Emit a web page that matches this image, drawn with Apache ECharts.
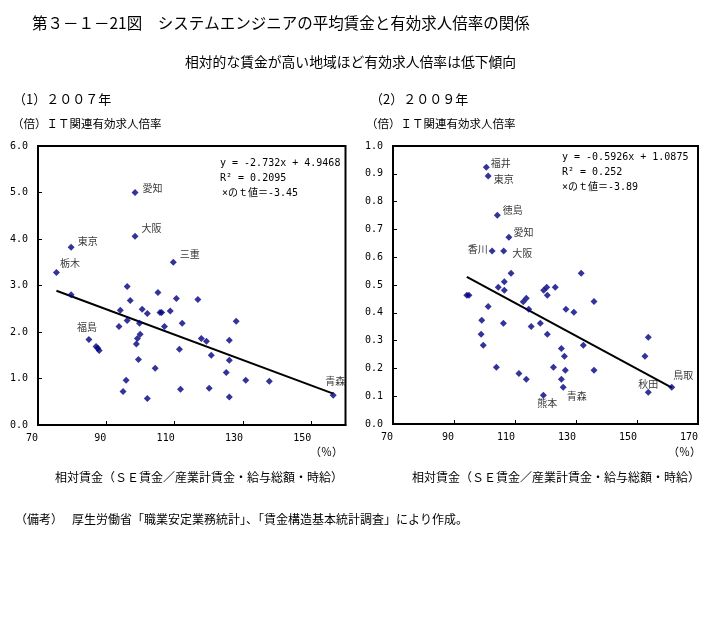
<!DOCTYPE html>
<html><head><meta charset="utf-8">
<script src="https://cdn.jsdelivr.net/npm/echarts@6/dist/echarts.min.js"></script>
<style>html,body{margin:0;padding:0;background:#fff}#c{width:717px;height:623px}</style>
</head><body><div id="c"></div>
<script>
// ---- Data: (1) 2007 ----
const x2007 = [98.4, 98.4, 79.7, 109.6, 75.4, 96.1, 79.7, 105.1, 110.5, 116.8, 97.0, 94.1, 100.5, 102.0, 105.7, 106.2, 108.7, 96.1, 93.7, 99.7, 107.0, 112.2, 128.0, 84.9, 99.9, 99.1, 117.8, 119.3, 126.0, 98.8, 87.0, 87.5, 87.9, 111.4, 120.7, 99.4, 126.0, 104.3, 125.1, 95.8, 130.8, 137.7, 94.9, 111.7, 120.1, 102.0, 126.0, 156.4];
const y2007 = [5.00, 4.06, 3.82, 3.50, 3.28, 2.98, 2.80, 2.85, 2.72, 2.70, 2.68, 2.47, 2.49, 2.40, 2.42, 2.42, 2.45, 2.25, 2.12, 2.19, 2.12, 2.19, 2.23, 1.84, 1.95, 1.86, 1.86, 1.80, 1.82, 1.74, 1.69, 1.65, 1.60, 1.63, 1.50, 1.41, 1.39, 1.22, 1.13, 0.96, 0.96, 0.94, 0.72, 0.77, 0.79, 0.57, 0.60, 0.64];
const names2007 = ['愛知', '大阪', '東京', '三重', '栃木', '', '', '', '', '', '', '', '', '', '', '', '', '', '', '', '', '', '', '福島', '', '', '', '', '', '', '', '', '', '', '', '', '', '', '', '', '', '', '', '', '', '', '', '青森'];
const slope2007 = -2.732, intercept2007 = 4.9468, r2_2007 = '0.2095', t2007 = '-3.45';
const xTicks2007 = [70, 90, 110, 130, 150];
const xMax2007 = 160;
const yTicks2007 = [0, 1, 2, 3, 4, 5, 6];

// ---- Data: (2) 2009 ----
const x2009 = [100.6, 101.2, 104.2, 108.0, 102.5, 106.3, 108.7, 131.7, 94.2, 94.9, 104.5, 106.5, 106.5, 101.2, 112.7, 113.7, 114.5, 99.1, 106.2, 115.3, 118.3, 98.9, 99.6, 119.4, 120.4, 120.6, 123.2, 120.6, 126.7, 129.3, 135.9, 125.2, 126.2, 132.4, 103.9, 122.6, 126.5, 135.9, 111.3, 113.7, 125.2, 125.8, 119.3, 152.6, 153.7, 153.7, 161.4];
const y2009 = [0.924, 0.892, 0.751, 0.672, 0.622, 0.622, 0.542, 0.542, 0.463, 0.463, 0.492, 0.512, 0.481, 0.423, 0.440, 0.452, 0.413, 0.373, 0.362, 0.351, 0.362, 0.323, 0.283, 0.481, 0.492, 0.463, 0.492, 0.323, 0.413, 0.402, 0.441, 0.272, 0.244, 0.283, 0.204, 0.204, 0.193, 0.193, 0.182, 0.161, 0.161, 0.132, 0.103, 0.244, 0.312, 0.114, 0.132];
const names2009 = ['福井', '東京', '徳島', '愛知', '香川', '大阪', '', '', '', '', '', '', '', '', '', '', '', '', '', '', '', '', '', '', '', '', '', '', '', '', '', '', '', '', '', '', '', '', '', '', '', '青森', '熊本', '', '', '秋田', '鳥取'];
const slope2009 = -0.5926, intercept2009 = 1.0875, r2_2009 = '0.252', t2009 = '-3.89';
const xTicks2009 = [70, 90, 110, 130, 150, 170];
const yTicks2009 = [0, 0.1, 0.2, 0.3, 0.4, 0.5, 0.6, 0.7, 0.8, 0.9, 1.0];

// ---- Styles ----
const MONO = "'DejaVu Sans Mono', 'Noto Sans CJK JP', monospace";
const JP = "'Noto Sans CJK JP', sans-serif";
const MARK = '#000080';

const labelStyle2007 = {
  '愛知': {position: 'right', distance: 4, offset: [0, -4]},
  '大阪': {position: 'right', distance: 3, offset: [0, -8]},
  '東京': {position: 'right', distance: 3, offset: [0, -6]},
  '三重': {position: 'right', distance: 3, offset: [0, -8]},
  '栃木': {position: 'right', distance: 0, offset: [0, -9]},
  '福島': {position: 'top', distance: 4, offset: [-2, 0]},
  '青森': {position: 'top', distance: 6, offset: [2, 0]}
};
const labelStyle2009 = {
  '福井': {position: 'right', distance: 1, offset: [0, -4]},
  '東京': {position: 'right', distance: 2, offset: [0, 3]},
  '徳島': {position: 'right', distance: 2, offset: [0, -5]},
  '愛知': {position: 'right', distance: 1, offset: [0, -5]},
  '香川': {position: 'left', distance: 1, offset: [0, -2]},
  '大阪': {position: 'right', distance: 5, offset: [0, 2]},
  '熊本': {position: 'bottom', distance: 0, offset: [4, -1]},
  '青森': {position: 'right', distance: 0, offset: [0, 9]},
  '秋田': {position: 'top', distance: 0, offset: [0, 0]},
  '鳥取': {position: 'right', distance: -2, offset: [0, -12]}
};

function scatterData(xs, ys, names, styles) {
  return xs.map((x, i) => {
    const item = {value: [x, ys[i]], name: names[i]};
    if (names[i]) {
      item.label = Object.assign({show: true, formatter: names[i], fontFamily: JP, fontSize: 10, color: '#000'}, styles[names[i]]);
    }
    return item;
  });
}
function trend(xs, slope, intercept) {
  const lo = Math.min(...xs), hi = Math.max(...xs);
  return [[lo, slope * lo / 100 + intercept], [hi, slope * hi / 100 + intercept]];
}

function xAxisCfg(idx, ticks, max, showMax) {
  return {
    type: 'value', gridIndex: idx, min: ticks[0], max: max, interval: ticks[1] - ticks[0],
    axisLine: {show: true, lineStyle: {color: '#000', width: 2}},
    axisTick: {show: true, inside: true, length: 4, lineStyle: {color: '#000'}},
    splitLine: {show: false},
    axisLabel: {show: true, showMaxLabel: showMax, align: 'right', margin: 8, fontFamily: MONO, fontSize: 10, color: '#000',
      formatter: v => String(Math.round(v))}
  };
}
function yAxisCfg(idx, ticks) {
  return {
    type: 'value', gridIndex: idx, min: ticks[0], max: ticks[ticks.length - 1], interval: ticks[1] - ticks[0],
    axisLine: {show: true, lineStyle: {color: '#000', width: 2}},
    axisTick: {show: true, inside: true, length: 4, lineStyle: {color: '#000'}},
    splitLine: {show: false},
    axisLabel: {show: true, margin: 10, fontFamily: MONO, fontSize: 10, color: '#000',
      formatter: v => v.toFixed(1)}
  };
}

function txt(x, y, text, size, font, align) {
  return {type: 'text', x: x, y: y, silent: true,
    style: {text: text, fontSize: size, fontFamily: font || JP, fill: '#000', textAlign: align || 'left', textVerticalAlign: 'middle'}};
}

const chart = echarts.init(document.getElementById('c'), null, {renderer: 'canvas'});
chart.setOption({
  animation: false,
  backgroundColor: '#fff',
  grid: [
    {left: 38, top: 146, width: 307.5, height: 279, show: true, borderColor: '#000', borderWidth: 2, backgroundColor: 'transparent'},
    {left: 393, top: 146, width: 305, height: 278, show: true, borderColor: '#000', borderWidth: 2, backgroundColor: 'transparent'}
  ],
  xAxis: [xAxisCfg(0, xTicks2007, xMax2007, false), xAxisCfg(1, xTicks2009, xTicks2009[xTicks2009.length - 1], true)],
  yAxis: [yAxisCfg(0, yTicks2007), yAxisCfg(1, yTicks2009)],
  series: [
    {type: 'line', xAxisIndex: 0, yAxisIndex: 0, data: trend(x2007, slope2007, intercept2007), symbol: 'none',
      lineStyle: {color: '#000', width: 2}, z: 2, silent: true},
    {type: 'scatter', xAxisIndex: 0, yAxisIndex: 0, data: scatterData(x2007, y2007, names2007, labelStyle2007),
      symbol: 'diamond', symbolSize: 7, itemStyle: {color: MARK}, z: 3},
    {type: 'line', xAxisIndex: 1, yAxisIndex: 1, data: trend(x2009, slope2009, intercept2009), symbol: 'none',
      lineStyle: {color: '#000', width: 2}, z: 2, silent: true},
    {type: 'scatter', xAxisIndex: 1, yAxisIndex: 1, data: scatterData(x2009, y2009, names2009, labelStyle2009),
      symbol: 'diamond', symbolSize: 7, itemStyle: {color: MARK}, z: 3}
  ],
  graphic: [
    txt(32, 23, '第３－１－21図　システムエンジニアの平均賃金と有効求人倍率の関係', 15.5),
    txt(185, 62, '相対的な賃金が高い地域ほど有効求人倍率は低下傾向', 13.8),
    txt(13, 99, '（1）２００７年', 13),
    txt(370, 99, '（2）２００９年', 13),
    txt(12, 124, '（倍）ＩＴ関連有効求人倍率', 11.5),
    txt(366, 124, '（倍）ＩＴ関連有効求人倍率', 11.5),
    txt(220, 163, 'y = ' + slope2007 + 'x + ' + intercept2007, 10, MONO),
    txt(220, 178, 'R² = ' + r2_2007, 10, MONO),
    txt(222, 193, '×のｔ値＝' + t2007, 10, MONO),
    txt(562, 157, 'y = ' + slope2009 + 'x + ' + intercept2009, 10, MONO),
    txt(562, 172, 'R² = ' + r2_2009, 10, MONO),
    txt(562, 187, '×のｔ値＝' + t2009, 10, MONO),
    txt(343, 452, '（％）', 11, JP, 'right'),
    txt(701, 452, '（％）', 11, JP, 'right'),
    txt(55, 477, '相対賃金（ＳＥ賃金／産業計賃金・給与総額・時給）', 12),
    txt(412, 477, '相対賃金（ＳＥ賃金／産業計賃金・給与総額・時給）', 12),
    txt(15, 519, '（備考）', 12),
    txt(72, 519, '厚生労働省「職業安定業務統計」、「賃金構造基本統計調査」により作成。', 12)
  ]
});
</script>
</body></html>
